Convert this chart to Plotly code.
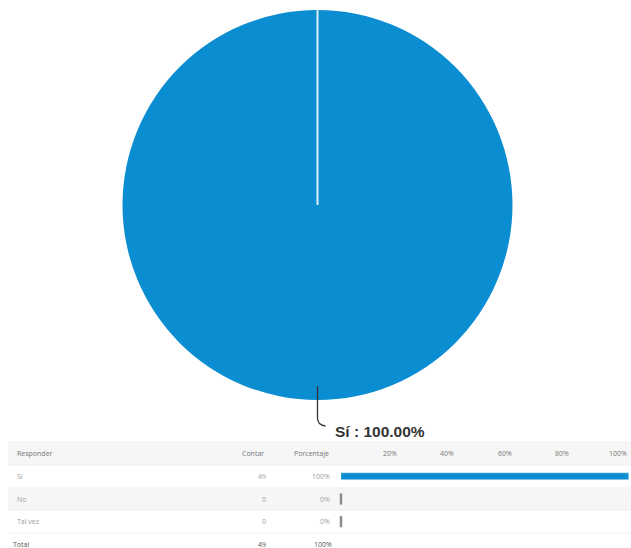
import plotly.graph_objects as go

# Survey answers
answers = ["Sí", "No", "Tal vez"]
counts = [49, 0, 0]
total = sum(counts)
percents = [100 * c / total for c in counts]
pct_labels = ["100%", "0%", "0%"]
tick_vals = [20, 40, 60, 80, 100]
tick_text = ["20%", "40%", "60%", "80%", "100%"]

W, H = 631, 548
BLUE = "#0b8dd1"
TXT = "#a0a0a0"


def py(px):
    """pixel row -> paper y"""
    return 1 - px / H


def pxx(px):
    return px / W


fig = go.Figure()

# Pie chart
pie_left, pie_right, pie_top, pie_bot = 122.5, 512.5, 10, 400
fig.add_trace(go.Pie(
    labels=answers, values=counts, sort=False, direction="clockwise",
    rotation=0, textinfo="none", hoverinfo="label+percent",
    marker=dict(colors=[BLUE, "#6d6d6d", "#bbbbbb"], line=dict(width=0)),
    domain=dict(x=[pxx(pie_left), pxx(pie_right)], y=[py(pie_bot), py(pie_top)]),
    showlegend=False,
))

cx = (pie_left + pie_right) / 2
cy = (pie_top + pie_bot) / 2
shapes = []
# slice boundary from centre to the top
shapes.append(dict(type="line", xref="paper", yref="paper",
                   x0=pxx(cx), x1=pxx(cx), y0=py(cy), y1=py(pie_top),
                   line=dict(color="#dff1fb", width=2)))
# leader line to the label
lx = cx
shapes.append(dict(type="path", xref="paper", yref="paper",
                   path=(f"M {pxx(lx)} {py(386)} L {pxx(lx)} {py(418)} "
                         f"Q {pxx(lx)} {py(425)} {pxx(lx + 8)} {py(426)}"),
                   line=dict(color="#333333", width=1.3)))

# Table row backgrounds
rows = [(441, 465, "#f6f6f6"), (465, 488, "#ffffff"), (488, 510, "#f6f6f6"),
        (510, 533, "#ffffff")]
for top, bot, col in rows:
    shapes.append(dict(type="rect", xref="paper", yref="paper", layer="below",
                       x0=pxx(8), x1=1, y0=py(bot), y1=py(top),
                       fillcolor=col, line=dict(width=0)))
for top, bot, col in rows:
    shapes.append(dict(type="line", xref="paper", yref="paper", layer="below",
                       x0=pxx(8), x1=1, y0=py(bot), y1=py(bot),
                       line=dict(color="#efefef", width=1)))

# Horizontal bars
fig.add_trace(go.Bar(
    x=percents, y=answers, orientation="h", marker=dict(color=BLUE),
    width=0.32, xaxis="x", yaxis="y", showlegend=False, hoverinfo="x+y",
))
# minimum-width stub for empty answers
zero_rows = [a for a, p in zip(answers, percents) if p == 0]
fig.add_trace(go.Scatter(
    x=[0 for _ in zero_rows], y=zero_rows, mode="markers", cliponaxis=False,
    marker=dict(symbol="line-ns", size=8, line=dict(color="#8c8c8c", width=2.5)),
    xaxis="x", yaxis="y", showlegend=False, hoverinfo="skip",
))

annotations = []
font_small = dict(family="Open Sans, Noto Sans, sans-serif", size=7, color=TXT)
head_font = dict(family="Open Sans, Noto Sans, sans-serif", size=7, color="#777777")

# Header
annotations.append(dict(text="Responder", x=pxx(15), y=py(453), xref="paper", yref="paper",
                        xanchor="left", yanchor="middle", showarrow=False, font=head_font))
annotations.append(dict(text="Contar", x=pxx(266), y=py(453), xref="paper", yref="paper",
                        xanchor="right", yanchor="middle", showarrow=False, font=head_font))
annotations.append(dict(text="Porcentaje", x=pxx(331), y=py(453), xref="paper", yref="paper",
                        xanchor="right", yanchor="middle", showarrow=False, font=head_font))
for v, t in zip(tick_vals, tick_text):
    annotations.append(dict(text=t, x=v, y=py(453), xref="x", yref="paper",
                            xanchor="right", yanchor="middle", showarrow=False, font=head_font))

# Rows
row_y = [476.5, 499, 521.5]
for a, c, pl, yy in zip(answers, counts, pct_labels, row_y):
    annotations.append(dict(text=a, x=pxx(15), y=py(yy), xref="paper", yref="paper",
                            xanchor="left", yanchor="middle", showarrow=False, font=font_small))
    annotations.append(dict(text=str(c), x=pxx(268), y=py(yy), xref="paper", yref="paper",
                            xanchor="right", yanchor="middle", showarrow=False, font=font_small))
    annotations.append(dict(text=pl, x=pxx(332), y=py(yy), xref="paper", yref="paper",
                            xanchor="right", yanchor="middle", showarrow=False, font=font_small))

# Total row
tot_font = dict(family="Open Sans, Noto Sans, sans-serif", size=7, color="#555555")
annotations.append(dict(text="Total", x=pxx(11), y=py(544), xref="paper", yref="paper",
                        xanchor="left", yanchor="middle", showarrow=False, font=tot_font))
annotations.append(dict(text=str(total), x=pxx(268), y=py(544), xref="paper", yref="paper",
                        xanchor="right", yanchor="middle", showarrow=False, font=tot_font))
annotations.append(dict(text="100%", x=pxx(334), y=py(544), xref="paper", yref="paper",
                        xanchor="right", yanchor="middle", showarrow=False, font=tot_font))

# Pie label
annotations.append(dict(text=f"<b>{answers[0]} : {percents[0]:.2f}%</b>",
                        x=pxx(333), y=py(431), xref="paper", yref="paper",
                        xanchor="left", yanchor="middle", showarrow=False,
                        font=dict(family="Liberation Sans, Arial, sans-serif",
                                  size=15.5, color="#333333")))

fig.update_layout(
    width=W, height=H, margin=dict(l=0, r=0, t=0, b=0),
    paper_bgcolor="white", plot_bgcolor="rgba(0,0,0,0)",
    xaxis=dict(domain=[pxx(341), pxx(629)], range=[0, 100], showgrid=False,
               zeroline=False, showticklabels=False, fixedrange=True),
    yaxis=dict(domain=[py(533), py(465)], categoryorder="array",
               categoryarray=answers, autorange="reversed", showgrid=False,
               zeroline=False, showticklabels=False, fixedrange=True),
    shapes=shapes, annotations=annotations, bargap=0,
)

fig.write_html("out.html")
